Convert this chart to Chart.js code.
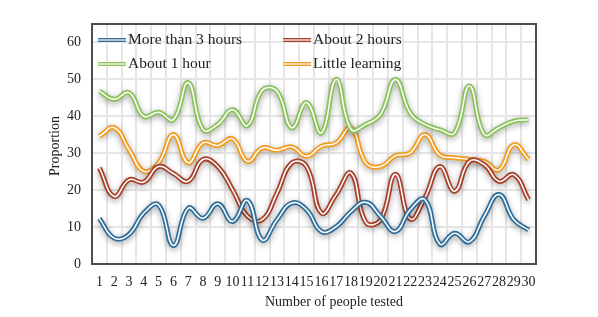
<!DOCTYPE html>
<html lang="en">
<head>
  <meta charset="UTF-8">
  <script src="https://cdn.jsdelivr.net/npm/chart.js"></script>
  <title>Proportion chart</title>
  <style>
    html,body{margin:0;padding:0;background:#fff;}
    #wrap{width:598px;height:317px;position:relative;}
  </style>
</head>
<body>
<div id="wrap"><canvas id="myChart" width="598" height="317"></canvas></div>
<script>
  // data
  const labels = []
  for (let i = 1; i <= 30; i++) labels.push(String(i))

  const seriesNames = ['More than 3 hours', 'About 2 hours', 'About 1 hour', 'Little learning']
  const seriesColors = ['#2f6f9a', '#a8402b', '#8cc25a', '#f39c1e']

  const moreThan3 = [12.3, 7, 8, 13.8, 16, 5, 15.1, 12.4, 16.3, 11.5, 17.2, 6.5, 12, 16.5, 14.7, 8.8, 10.1, 14.2, 16.7, 12.9, 8.8, 14.7, 17.4, 5.4, 8.3, 6, 12.9, 18.8, 12, 9.2]
  const about2 = [26, 18.3, 22.8, 22.2, 26.4, 24.5, 22.4, 28.3, 26.4, 20.1, 13, 12, 19.2, 27.4, 26.4, 13.8, 18.8, 24.6, 11.3, 12, 24.3, 12.2, 18, 26.4, 19.7, 27.8, 26.9, 22.4, 24.2, 17.4]
  const about1 = [46.8, 44.6, 46.4, 40, 41.1, 39.1, 49.1, 36.4, 37.8, 41.8, 37.5, 47, 46.8, 36.9, 43.7, 35.5, 50, 36.5, 37.8, 40.5, 50, 40.9, 37.8, 36.4, 35.5, 48.2, 35.1, 36.9, 38.7, 39.1]
  const littleLearning = [34.6, 36.9, 31, 25.1, 27.4, 35.1, 27.4, 32.8, 32.1, 33.9, 27.8, 31.4, 30.8, 31.7, 29.2, 31.9, 32.8, 36.9, 27.4, 26.4, 29.3, 30.1, 35.1, 29.5, 28.8, 28.3, 27.8, 25.5, 32.3, 28.3]

  const yTicks = [0, 10, 20, 30, 40, 50, 60]

  const allData = [moreThan3, about2, about1, littleLearning]

  // each series = white inner line on top of a thick coloured line
  let datasets = []
  allData.forEach(function(arr, k){
    datasets.push({label: seriesNames[k], data: arr, borderColor: '#ffffff', borderWidth: 1.5, inner: true})
    datasets.push({label: seriesNames[k], data: arr, borderColor: seriesColors[k], borderWidth: 5, inner: false})
  })
  datasets.forEach(function(d){
    d.pointRadius = 0
    d.tension = 0.45
    d.fill = false
  })

  const font = "'Liberation Serif', 'Times New Roman', serif"

  const decor = {
    id: 'decor',
    beforeDatasetDraw(chart, args){
      const ds = chart.data.datasets[args.index]
      if (!ds.inner) {
        const c = chart.ctx
        c.save()
        c.shadowColor = 'rgba(0,0,0,0.35)'
        c.shadowBlur = 6
        c.shadowOffsetY = 2
      }
    },
    afterDatasetDraw(chart, args){
      const ds = chart.data.datasets[args.index]
      if (!ds.inner) chart.ctx.restore()
    },
    afterDraw(chart){
      const c = chart.ctx
      const a = chart.chartArea
      c.save()
      // plot border
      c.strokeStyle = '#4d4d4d'
      c.lineWidth = 2
      c.strokeRect(a.left, a.top, a.right - a.left, a.bottom - a.top)

      // legend
      const pos = [[98, 40], [283, 40], [98, 64], [283, 64]]
      c.font = '15.5px ' + font
      c.textBaseline = 'middle'
      pos.forEach(function(p, k){
        c.strokeStyle = seriesColors[k]
        c.lineWidth = 4
        c.beginPath(); c.moveTo(p[0], p[1]); c.lineTo(p[0] + 28, p[1]); c.stroke()
        c.strokeStyle = '#fff'
        c.lineWidth = 1.2
        c.beginPath(); c.moveTo(p[0], p[1]); c.lineTo(p[0] + 28, p[1]); c.stroke()
        c.fillStyle = '#222'
        c.fillText(seriesNames[k], p[0] + 30, p[1])
      })

      // axis titles
      c.fillStyle = '#222'
      c.font = '14px ' + font
      c.textAlign = 'center'
      c.fillText('Number of people tested', 334, 302)
      c.translate(55, 146)
      c.rotate(-Math.PI / 2)
      c.fillText('Proportion', 0, 0)
      c.restore()
    }
  }

  const ctx = document.getElementById('myChart')
  new Chart(ctx, {
    type: 'line',
    data: {labels: labels, datasets: datasets},
    plugins: [decor],
    options: {
      responsive: false,
      animation: false,
      layout: {padding: {left: 0, right: 62, top: 24, bottom: 0}},
      plugins: {legend: {display: false}, tooltip: {enabled: false}},
      scales: {
        x: {
          offset: true,
          grid: {offset: true, color: '#e6e6e6', lineWidth: 2, drawTicks: false},
          border: {display: false},
          ticks: {color: '#222', font: {family: font, size: 14}, padding: 10, maxRotation: 0, autoSkip: false},
          afterFit(scale){ scale.height = 53 }
        },
        y: {
          min: 0, max: 65,
          afterBuildTicks(scale){ scale.ticks = yTicks.map(function(v){ return {value: v} }) },
          grid: {color: '#e6e6e6', lineWidth: 2, drawTicks: false},
          border: {display: false},
          ticks: {color: '#222', font: {family: font, size: 14}, padding: 11},
          afterFit(scale){ scale.width = 92 }
        }
      }
    }
  })
</script>
</body>
</html>
